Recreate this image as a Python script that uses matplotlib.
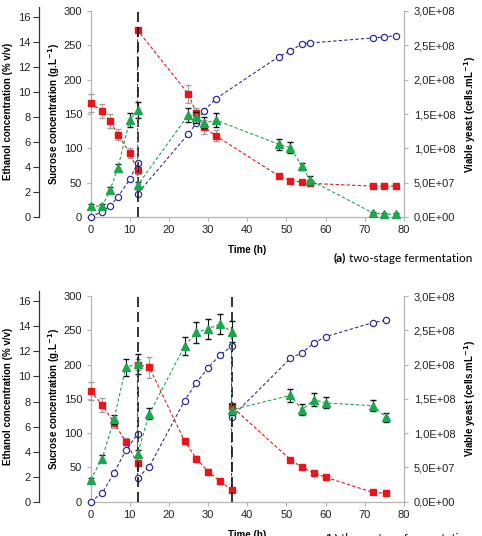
import matplotlib
matplotlib.use("Agg")
import matplotlib.pyplot as plt
from matplotlib.ticker import FuncFormatter

plt.rcParams['font.family'] = ['Liberation Sans', 'DejaVu Sans']

# ---- panel (a): two-stage fermentation ----
time_a = [0, 3, 5, 7, 10, 12, 12, 25, 27, 29, 32, 48, 51, 54, 56, 72, 75, 78]
sucrose_a = [166, 154, 140, 120, 93.5, 68, 272, 179, 151, 131, 118, 60, 53, 51, 49, 45, 45, 45]
sucrose_err_a = [13, 10, 10, 8, 7, 5, 3, 13, 8, 10, 8, 2, 2, 2, 2, 2, 2, 2]
ethanol_a = [0, 0.43, 0.9, 1.6, 3.0, 4.3, 1.86, 6.65, 7.5, 8.5, 9.45,
             12.8, 13.26, 13.84, 13.9, 14.3, 14.38, 14.48]
yeast_a = [1.56e7, 1.6e7, 3.9e7, 7.2e7, 1.41e8, 1.56e8, 4.6e7, 1.49e8, 1.45e8,
           1.37e8, 1.41e8, 1.06e8, 1.01e8, 7.4e7, 5.4e7, 6e6, 4e6, 4e6]
yeast_err_a = [3e6, 3e6, 4e6, 5e6, 1e7, 1.2e7, 5e6, 1e7, 8e6, 8e6, 1e7,
               8e6, 8e6, 5e6, 5e6, 2e6, 2e6, 2e6]
stages_a = [12]

# ---- panel (b): three-stage fermentation ----
time_b = [0, 3, 6, 9, 12, 12, 15, 24, 27, 30, 33, 36, 36, 51, 54, 57, 60, 72, 75.5]
sucrose_b = [162, 141, 115, 87.5, 56, 200, 196, 88.5, 63, 44, 30, 17.5, 139,
             61.5, 50, 42, 35.6, 13.7, 12.2]
sucrose_err_b = [13, 10, 8, 5, 4, 8, 15, 5, 4, 3, 2, 2, 3, 2, 2, 2, 2, 2, 2]
ethanol_b = [0, 0.69, 2.3, 4.1, 5.4, 1.9, 2.8, 8.07, 9.5, 10.7, 11.7, 12.4, 6.76,
             11.45, 11.9, 12.67, 13.18, 14.3, 14.5]
yeast_b = [3.2e7, 6.3e7, 1.2e8, 1.96e8, 2.01e8, 7.0e7, 1.28e8, 2.27e8, 2.47e8,
           2.52e8, 2.59e8, 2.48e8, 1.34e8, 1.55e8, 1.34e8, 1.49e8, 1.44e8, 1.40e8, 1.23e8]
yeast_err_b = [2e6, 5e6, 7e6, 1.2e7, 1.5e7, 5e6, 8e6, 1.3e7, 1.5e7, 1.5e7, 1.5e7,
               1.5e7, 8e6, 1e7, 8e6, 1e7, 8e6, 8e6, 7e6]
stages_b = [12, 36]

RED = '#e8161b'
GREEN = '#1ca650'
BLUE = '#2e2e9c'
GRAY = '#b4b4b4'
FS = 7


def sci_comma(v, pos):
    return f"{v:.1E}".replace('.', ',')


def draw_panel(fig, rect, eth_top_px, t, suc, suc_err, eth, yeast, yeast_err,
               stages, letter, caption, cap_y):
    W, H = fig.get_size_inches() * fig.dpi
    left, bottom, width, height = rect
    ax = fig.add_axes(rect)

    # sucrose (primary axis)
    ax.errorbar(t, suc, yerr=suc_err, color=RED, ls=(0, (3, 2)), lw=0.8,
                marker='s', ms=5, mec=RED, ecolor='#a0a0a0', elinewidth=0.8,
                capsize=2, clip_on=False, zorder=3)
    ax.set_xlim(0, 80)
    ax.set_ylim(0, 300)
    ax.set_xticks(range(0, 81, 10))
    ax.set_yticks(range(0, 301, 50))
    for s in ['top', 'right']:
        ax.spines[s].set_visible(False)
    for s in ['left', 'bottom']:
        ax.spines[s].set_color(GRAY)
        ax.spines[s].set_linewidth(0.9)
    ax.tick_params(axis='both', labelsize=FS + 1, length=3, width=0.8,
                   color=GRAY, pad=3, labelcolor='#222222')
    ax.set_ylabel('Sucrose concentration (g.L$^{\\mathbf{-1}}$)', fontsize=FS,
                  fontweight='bold', labelpad=1)
    ax.set_xlabel('Time (h)', fontsize=FS, fontweight='bold', labelpad=7)

    # ethanol axis (offset left)
    eth_h = (H * (1 - bottom) - eth_top_px) / H
    ax_e = fig.add_axes([left, bottom, width, eth_h])
    ax_e.patch.set_visible(False)
    ax_e.plot(t, eth, color=BLUE, ls=(0, (3, 2)), lw=0.8, marker='o', ms=4.5,
              mfc='white', mec=BLUE, mew=0.9, clip_on=False, zorder=3)
    ax_e.set_xlim(0, 80)
    ax_e.set_ylim(0, eth_h * H / 12.52)
    ax_e.set_yticks(range(0, 17, 2))
    ax_e.xaxis.set_visible(False)
    for s in ['top', 'right', 'bottom']:
        ax_e.spines[s].set_visible(False)
    ax_e.spines['left'].set_position(('axes', -0.164))
    ax_e.spines['left'].set_color('#333333')
    ax_e.spines['left'].set_linewidth(0.9)
    ax_e.tick_params(axis='y', labelsize=FS + 1, length=4, width=0.8,
                     color='#333333', pad=2, labelcolor='#222222')
    ax_e.set_ylabel('Ethanol concentration (% v/v)', fontsize=FS,
                    fontweight='bold', labelpad=4)

    # viable yeast (secondary axis)
    ax_y = ax.twinx()
    for st in stages:
        ax_y.axvline(st, color='#111111', lw=1.2, ls=(0, (6, 3)), zorder=1)
    ax_y.errorbar(t, yeast, yerr=yeast_err, color=GREEN, ls=(0, (3, 2)), lw=0.8,
                  marker='^', ms=5.5, mec=GREEN, ecolor='#111111', elinewidth=0.8,
                  capsize=2, clip_on=False, zorder=4)
    ax_y.set_ylim(0, 3e8)
    ax_y.set_yticks([i * 5e7 for i in range(7)])
    ax_y.yaxis.set_major_formatter(FuncFormatter(sci_comma))
    for s in ['top', 'left', 'bottom']:
        ax_y.spines[s].set_visible(False)
    ax_y.spines['right'].set_color(GRAY)
    ax_y.spines['right'].set_linewidth(0.9)
    ax_y.tick_params(axis='y', labelsize=FS + 1, length=3, width=0.8,
                     color=GRAY, pad=4, labelcolor='#222222')
    ax_y.set_ylabel('Viable yeast (cells.mL$^{\\mathbf{-1}}$)', fontsize=FS,
                    fontweight='bold', labelpad=5)

    # caption: bold letter placed just left of the caption text
    cap = fig.text(472 / W, 1 - cap_y / H, caption, ha='right', va='center',
                   fontsize=FS + 1.5, family=['Lato', 'DejaVu Sans'])
    bb = cap.get_window_extent(renderer=fig.canvas.get_renderer())
    fig.text((bb.x0 - 3) / W, 1 - cap_y / H, letter, ha='right', va='center',
             fontsize=FS + 1.5, fontweight='bold', family=['Lato', 'DejaVu Sans'])


fig = plt.figure(figsize=(4.82, 5.36), dpi=100)
draw_panel(fig, [90.5 / 482, 1 - 217 / 536, 313.5 / 482, 206 / 536], 6.7,
           time_a, sucrose_a, sucrose_err_a, ethanol_a, yeast_a, yeast_err_a,
           stages_a, '(a)', 'two-stage fermentation', 258)
draw_panel(fig, [90.5 / 482, 1 - 501.7 / 536, 313.5 / 482, 205.7 / 536], 290.7,
           time_b, sucrose_b, sucrose_err_b, ethanol_b, yeast_b, yeast_err_b,
           stages_b, '(b)', 'three-stage fermentation', 539)

fig.savefig('out.png', dpi=100)
